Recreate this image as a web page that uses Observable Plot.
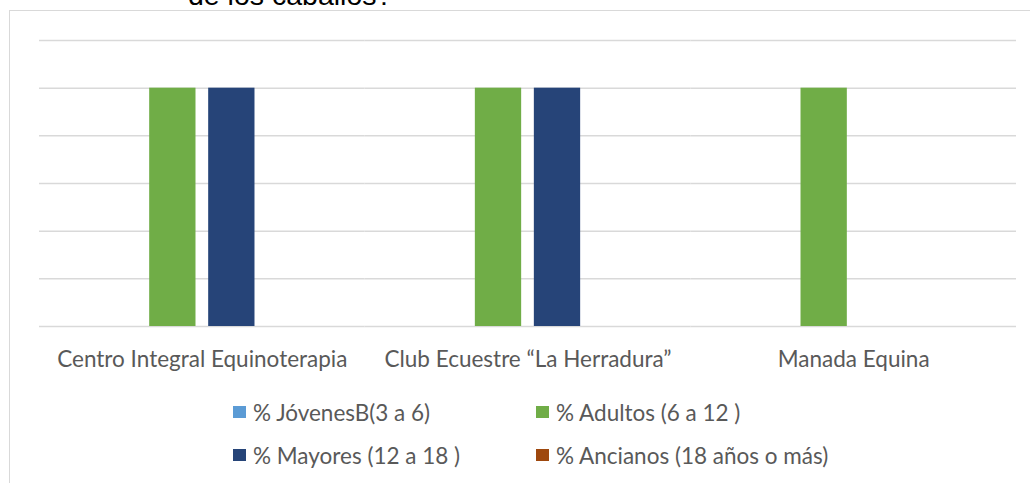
<!DOCTYPE html>
<html>
<head>
<meta charset="utf-8">
<script src="https://cdn.jsdelivr.net/npm/d3@7"></script>
<script src="https://cdn.jsdelivr.net/npm/@observablehq/plot@0.6"></script>
<style>
  body { margin: 0; background: #fff; }
  #wrap { position: relative; width: 1030px; height: 483px; overflow: hidden; background: #fff; }
  #title { position: absolute; left: 188px; top: -19px; font: 28.5px/28.5px "Liberation Sans", Arial, sans-serif; color: #000; white-space: nowrap; }
  #frame { position: absolute; left: 9px; top: 10px; width: 1100px; height: 600px; border-left: 1.5px solid #d9d9d9; border-top: 1.5px solid #d9d9d9; }
  #chart { position: absolute; left: 0; top: 0; }
  #legend { position: absolute; left: 233px; top: 399.5px; display: grid; grid-template-columns: 303px auto; grid-auto-rows: 25px; row-gap: 18px;
            font: 22.5px Lato, "Open Sans", sans-serif; color: #595959; }
  .item { display: flex; align-items: center; white-space: nowrap; }
  .sw { width: 13px; height: 12px; margin-right: 7px; flex: none; }
</style>
</head>
<body>
<div id="wrap">
  <div id="title">de los caballos?</div>
  <div id="frame"></div>
  <div id="chart"></div>
  <div id="legend"></div>
</div>
<script>
const centros = ["Centro Integral Equinoterapia", "Club Ecuestre “La Herradura”", "Manada Equina"];
const series = ["% JóvenesB(3 a 6)", "% Adultos (6 a 12 )", "% Mayores (12 a 18 )", "% Ancianos (18 años o más)"];
const jovenes = [0, 0, 0];
const adultos = [100, 100, 100];
const mayores = [100, 100, 0];
const ancianos = [0, 0, 0];
const yTicks = [0, 20, 40, 60, 80, 100, 120];
const colores = ["#5b9bd5", "#70ad47", "#264478", "#9e480e"];
const legendOrder = [0, 1, 2, 3];

const valores = [jovenes, adultos, mayores, ancianos];
const data = [];
centros.forEach((c, i) => {
  series.forEach((s, j) => {
    data.push({centro: c, serie: s, valor: valores[j][i]});
  });
});

const chart = Plot.plot({
  width: 1030,
  height: 380,
  marginLeft: 39,
  marginRight: 14,
  marginTop: 40,
  marginBottom: 54,
  style: {fontFamily: "Lato, 'Open Sans', sans-serif", fontSize: "22.5px", color: "#595959", background: "transparent"},
  fx: {domain: centros, padding: 0, round: false, axis: "bottom", tickSize: 0, tickPadding: 25, label: null},
  x: {domain: series, axis: null, round: false, paddingInner: 0.215, paddingOuter: 0.8675},
  y: {domain: [0, 120], axis: null},
  color: {domain: series, range: colores},
  marks: [
    Plot.ruleY(yTicks, {stroke: "#d9d9d9", strokeWidth: 1.5}),
    Plot.barY(data, {fx: "centro", x: "serie", y: "valor", fill: "serie"})
  ]
});
chart.querySelectorAll("text").forEach(t => t.setAttribute("fill", "#595959"));
document.getElementById("chart").appendChild(chart);

const legend = document.getElementById("legend");
legendOrder.forEach(j => {
  const item = document.createElement("div");
  item.className = "item";
  const sw = document.createElement("span");
  sw.className = "sw";
  sw.style.background = colores[j];
  const tx = document.createElement("span");
  tx.textContent = series[j];
  item.appendChild(sw);
  item.appendChild(tx);
  legend.appendChild(item);
});
</script>
</body>
</html>
